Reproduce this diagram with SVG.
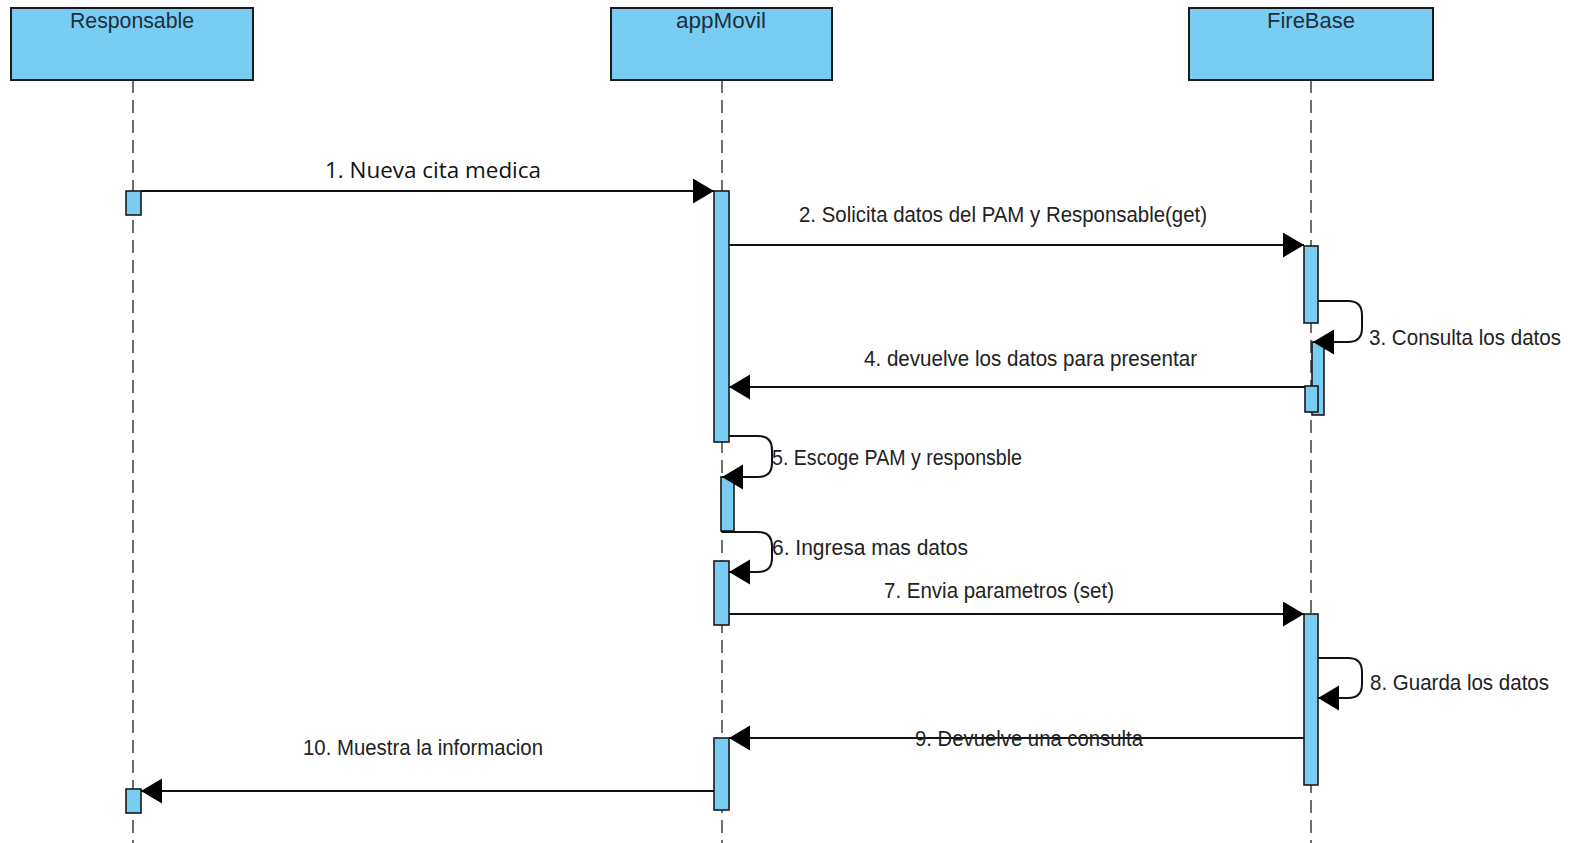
<svg xmlns="http://www.w3.org/2000/svg" width="1574" height="843" viewBox="0 0 1574 843">
<style>
.hdr{fill:#79CDF2;stroke:#1a1a1a;stroke-width:2}
.hdrt{font-family:"Liberation Sans",Arial,sans-serif;font-size:22px;fill:#1e2f40;text-anchor:middle}
.life{stroke:#4a4a4a;stroke-width:1.6;stroke-dasharray:13 7;fill:none}
.bar{fill:#79CDF2;stroke:#1a1a1a;stroke-width:1.6}
.msg{stroke:#111;stroke-width:2;fill:none;marker-end:url(#ah)}
.lbl{font-family:"Liberation Sans",Arial,sans-serif;font-size:22px;fill:#222}
.lbl1{font-family:"Open Sans","Noto Sans",sans-serif;font-size:21px;fill:#111}
</style>
<defs>
<marker id="ah" markerUnits="userSpaceOnUse" markerWidth="22" markerHeight="26" refX="21" refY="12.5" orient="auto">
<path d="M0,0 L21,12.5 L0,25 Z" fill="#000"/>
</marker>
</defs>
<rect width="1574" height="843" fill="#fff"/>

<g id="lifelines">
<line class="life" x1="133" y1="80" x2="133" y2="843"/>
<line class="life" x1="722" y1="80" x2="722" y2="843"/>
<line class="life" x1="1311" y1="80" x2="1311" y2="843"/>
</g>

<g id="responsable">
<rect class="hdr" x="11" y="8" width="242" height="72"/>
<text class="hdrt" x="132" y="28" textLength="124" lengthAdjust="spacingAndGlyphs">Responsable</text>
<rect class="bar" x="126" y="191" width="15" height="24"/>
<rect class="bar" x="126" y="789" width="15" height="24"/>
</g>

<g id="appMovil">
<rect class="hdr" x="611" y="8" width="221" height="72"/>
<text class="hdrt" x="721" y="28" textLength="90" lengthAdjust="spacingAndGlyphs">appMovil</text>
<rect class="bar" x="714" y="191" width="15" height="251"/>
<rect class="bar" x="721" y="477" width="13" height="54"/>
<rect class="bar" x="714" y="561" width="15" height="64"/>
<rect class="bar" x="714" y="738" width="15" height="72"/>
</g>

<g id="firebase">
<rect class="hdr" x="1189" y="8" width="244" height="72"/>
<text class="hdrt" x="1311" y="28" textLength="88" lengthAdjust="spacingAndGlyphs">FireBase</text>
<rect class="bar" x="1304" y="246" width="14" height="77"/>
<rect class="bar" x="1312" y="342" width="12" height="73"/>
<rect class="bar" x="1305" y="386" width="13" height="26"/>
<rect class="bar" x="1304" y="614" width="14" height="171"/>
</g>

<g id="connectors">
<line class="msg" x1="141" y1="191" x2="714" y2="191"/>
<line class="msg" x1="729" y1="245" x2="1304" y2="245"/>
<path class="msg" d="M1318 301 H1348 Q1362 301 1362 315 V328 Q1362 342 1348 342 H1313"/>
<line class="msg" x1="1305" y1="387" x2="729" y2="387"/>
<path class="msg" d="M729 436 H758 Q772 436 772 450 V463 Q772 477 758 477 H722"/>
<path class="msg" d="M722 532 H758 Q772 532 772 546 V558 Q772 572 758 572 H729"/>
<line class="msg" x1="729" y1="614" x2="1304" y2="614"/>
<path class="msg" d="M1318 658 H1348 Q1362 658 1362 672 V684 Q1362 698 1348 698 H1318"/>
<line class="msg" x1="1304" y1="738" x2="729" y2="738"/>
<line class="msg" x1="714" y1="791" x2="141" y2="791"/>
</g>

<g id="labels">
<text class="lbl1" x="325" y="178" textLength="216" lengthAdjust="spacingAndGlyphs">1. Nueva cita medica</text>
<text class="lbl" x="799" y="222" textLength="408" lengthAdjust="spacingAndGlyphs">2. Solicita datos del PAM y Responsable(get)</text>
<text class="lbl" x="1369" y="345" textLength="192" lengthAdjust="spacingAndGlyphs">3. Consulta los datos</text>
<text class="lbl" x="864" y="366" textLength="333" lengthAdjust="spacingAndGlyphs">4. devuelve los datos para presentar</text>
<text class="lbl" x="772" y="465" textLength="250" lengthAdjust="spacingAndGlyphs">5. Escoge PAM y responsble</text>
<text class="lbl" x="772" y="555" textLength="196" lengthAdjust="spacingAndGlyphs">6. Ingresa mas datos</text>
<text class="lbl" x="884" y="598" textLength="230" lengthAdjust="spacingAndGlyphs">7. Envia parametros (set)</text>
<text class="lbl" x="1370" y="690" textLength="179" lengthAdjust="spacingAndGlyphs">8. Guarda los datos</text>
<text class="lbl" x="915" y="746" textLength="228" lengthAdjust="spacingAndGlyphs">9. Devuelve una consulta</text>
<text class="lbl" x="303" y="755" textLength="240" lengthAdjust="spacingAndGlyphs">10. Muestra la informacion</text>
</g>
</svg>
